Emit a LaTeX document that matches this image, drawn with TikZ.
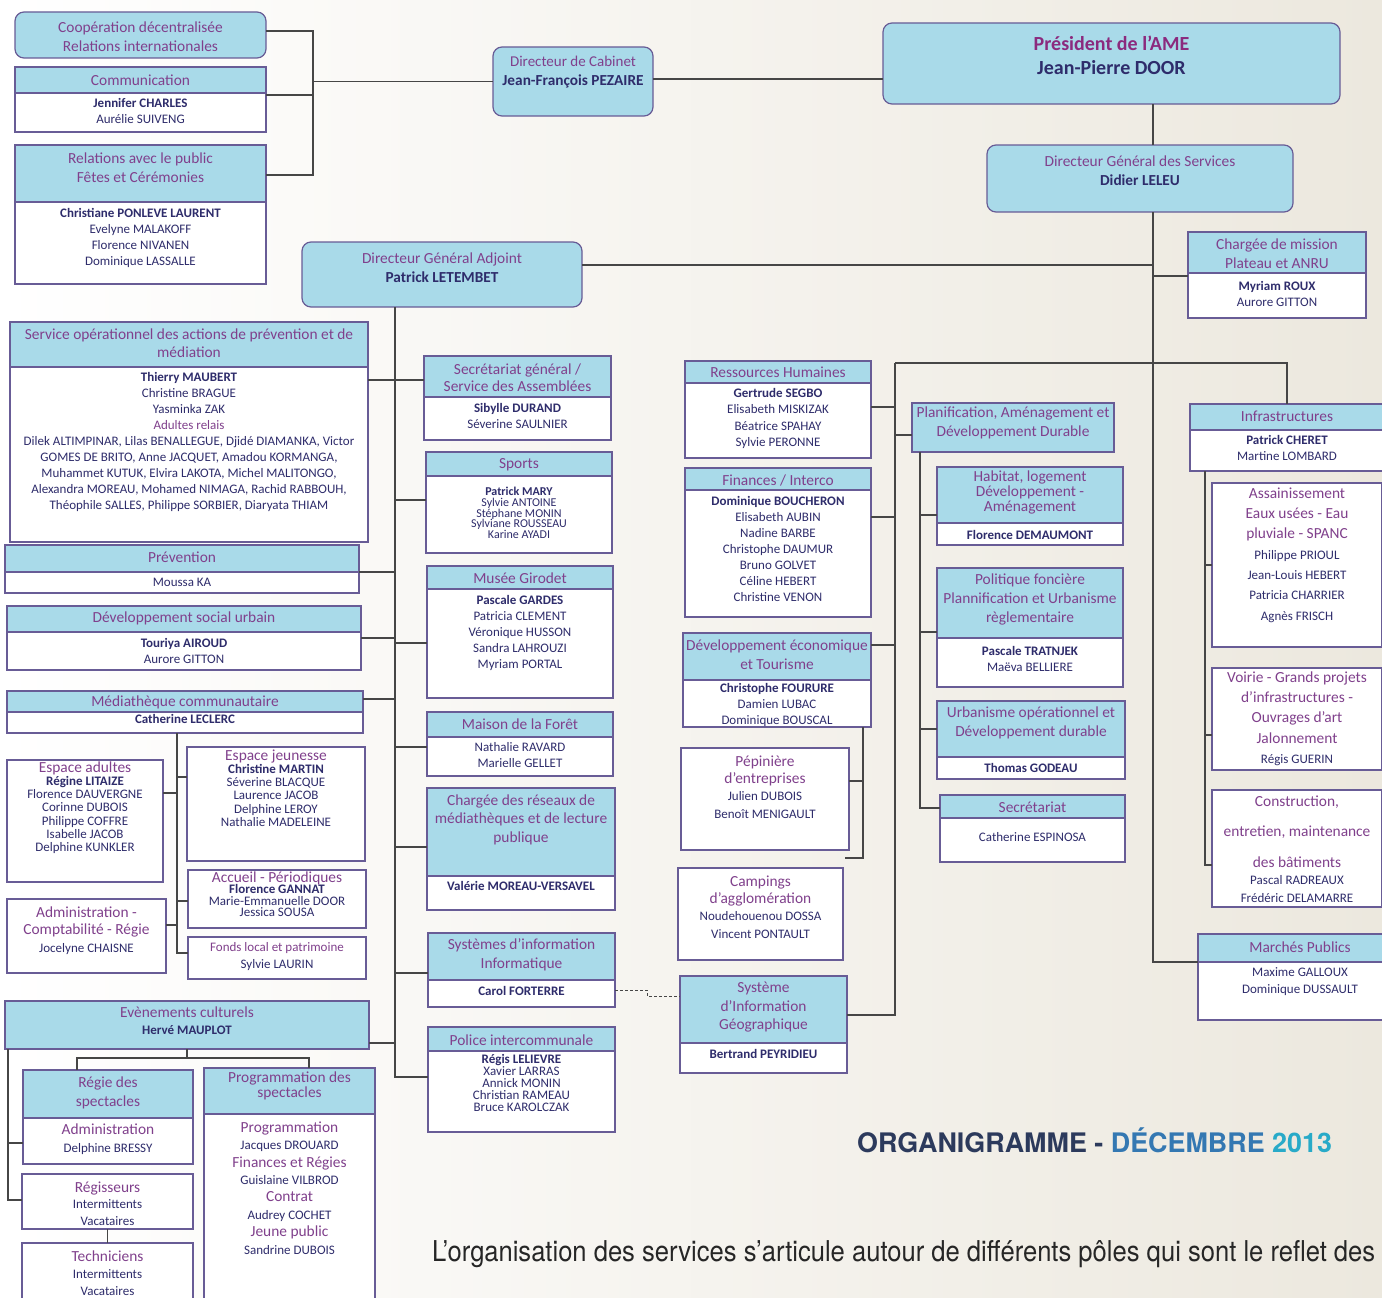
\documentclass[tikz,border=0pt]{standalone}
\usepackage{fontspec}
\setmainfont{Carlito}
\newfontfamily\heros{TeX Gyre Heros}
\usetikzlibrary{fit}
\definecolor{hdr}{RGB}{169,218,233}
\definecolor{bord}{RGB}{104,92,150}
\definecolor{ttl}{RGB}{128,64,140}
\definecolor{presc}{RGB}{139,42,126}
\definecolor{nav}{RGB}{46,44,107}
\definecolor{lnk}{RGB}{70,70,70}
\definecolor{bgr}{RGB}{236,232,222}
\definecolor{orgnav}{RGB}{44,58,92}
\definecolor{orgblue}{RGB}{52,120,178}
\definecolor{orgteal}{RGB}{40,170,200}
\newcommand\orgTwo[6]{%
  \fill[hdr] (#2,#3) rectangle (#4,#5);
  \fill[white] (#2,#5) rectangle (#4,#6);
  \draw[sep] (#2,#5) -- (#4,#5);
  \node[frame, fit={(#2,#3) (#4,#6)}] (#1) {};}
\newcommand\orgRound[5]{\node[frame, fill=hdr, rounded corners=9pt, fit={(#2,#3) (#4,#5)}] (#1) {};}
\newcommand\orgWhite[5]{\node[frame, fill=white, fit={(#2,#3) (#4,#5)}] (#1) {};}
\newcommand\orgBlue[5]{\node[frame, fill=hdr, fit={(#2,#3) (#4,#5)}] (#1) {};}
\newcommand\hsz[1]{\fontsize{15.4}{#1}\selectfont}
\newcommand\nsz[1]{\fontsize{13}{#1}\selectfont}
\newcommand\purp[1]{{\color{ttl}\fontsize{15.4}{14}\selectfont #1}}
\begin{document}
\lineskiplimit=-50pt\relax
\begin{tikzpicture}[x=1pt,y=-1pt,
  frame/.style={draw=bord, line width=1.2pt, inner sep=0pt, outer sep=0pt},
  sep/.style={draw=bord, line width=1.2pt},
  conn/.style={draw=lnk, line width=1.3pt},
  ht/.style={font=\hsz{19}, text=ttl, align=center, inner sep=0pt},
  nt/.style={font=\nsz{16}, text=nav, align=center, inner sep=0pt},
]
\useasboundingbox (0,0) rectangle (1382,1298);
\clip (0,0) rectangle (1382,1298);
\fill[left color=white, right color=bgr] (0,0) rectangle (1382,1298);

% ---------- top left
\orgRound{coop}{15}{12}{266}{58}
\node[ht] (coop-t) at (140.5,36.5) {Coopération décentralisée\\Relations internationales};
\orgTwo{comm}{15}{67}{266}{93}{132}
\node[ht] (comm-t) at (140.5,80) {Communication};
\node[nt] (comm-n) at (140.5,111) {\textbf{Jennifer CHARLES}\\Aurélie SUIVENG};
\orgTwo{rel}{15}{145}{266}{202}{284}
\node[ht] (rel-t) at (140.5,167.5) {Relations avec le public\\Fêtes et Cérémonies};
\node[nt] (rel-n) at (140.5,237.5) {\textbf{Christiane PONLEVE LAURENT}\\Evelyne MALAKOFF\\Florence NIVANEN\\Dominique LASSALLE};

% ---------- direction
\orgRound{cab}{493}{47}{653}{116}
\node[ht, font=\fontsize{15}{19}\selectfont] (cab-t) at (573,72.5) {Directeur de Cabinet\\\textcolor{nav}{\bfseries\fontsize{15.3}{19}\selectfont Jean-François PEZAIRE}};
\orgRound{pres}{883}{23}{1340}{104}
\node[ht, font=\bfseries\fontsize{20}{24}\selectfont, text=presc] (pres-t) at (1111.5,55) {Président de l'AME\\\textcolor{nav}{Jean-Pierre DOOR}};
\orgRound{dgs}{987}{145}{1293}{212}
\node[ht] (dgs-t) at (1140,170.5) {Directeur Général des Services\\\textcolor{nav}{\bfseries\fontsize{15.3}{19}\selectfont Didier LELEU}};
\orgRound{dga}{302}{242}{582}{307}
\node[ht] (dga-t) at (442,267.5) {Directeur Général Adjoint\\\textcolor{nav}{\bfseries\fontsize{15.3}{19}\selectfont Patrick LETEMBET}};
\orgTwo{cm}{1188}{232}{1366}{273}{318}
\node[ht] (cm-t) at (1277,253.5) {Chargée de mission\\Plateau et ANRU};
\node[nt] (cm-n) at (1277,294) {\textbf{Myriam ROUX}\\Aurore GITTON};

% ---------- left column
\orgTwo{sop}{10}{322}{368}{367}{542}
\node[ht, font=\hsz{18}] (sop-t) at (189,343) {Service opérationnel des actions de prévention et de\\médiation};
\node[nt] (sop-n) at (189,442) {\textbf{Thierry MAUBERT}\\Christine BRAGUE\\Yasminka ZAK\\\textcolor{ttl}{Adultes relais}\\Dilek ALTIMPINAR, Lilas BENALLEGUE, Djidé DIAMANKA, Victor\\GOMES DE BRITO, Anne JACQUET, Amadou KORMANGA,\\Muhammet KUTUK, Elvira LAKOTA, Michel MALITONGO,\\Alexandra MOREAU, Mohamed NIMAGA, Rachid RABBOUH,\\Théophile SALLES, Philippe SORBIER,  Diaryata THIAM};
\orgTwo{prev}{5}{545}{359}{572}{593}
\node[ht] (prev-t) at (182,557) {Prévention};
\node[nt] (prev-n) at (182,582) {Moussa KA};
\orgTwo{dsu}{7}{606}{361}{632}{670}
\node[ht] (dsu-t) at (184,618) {Développement social urbain};
\node[nt] (dsu-n) at (184,651) {\textbf{Touriya AIROUD}\\Aurore GITTON};
\orgTwo{med}{7}{691}{363}{712}{733}
\node[ht] (med-t) at (185,702) {Médiathèque communautaire};
\node[nt] (med-n) at (185,719) {\textbf{Catherine LECLERC}};
\orgWhite{ead}{7}{760}{163}{882}
\node[nt, font=\nsz{13.2}] (ead-t) at (85,807.5) {\purp{Espace adultes}\\\textbf{Régine LITAIZE}\\Florence DAUVERGNE\\Corinne DUBOIS\\Philippe COFFRE\\Isabelle JACOB\\Delphine KUNKLER};
\orgWhite{ej}{187}{747}{365}{861}
\node[nt, font=\nsz{13.2}] (ej-t) at (276,788) {\purp{Espace jeunesse}\\\textbf{Christine MARTIN}\\Séverine BLACQUE\\Laurence JACOB\\Delphine LEROY\\Nathalie MADELEINE};
\orgWhite{acc}{188}{870}{366}{928}
\node[nt, font=\nsz{11.5}] (acc-t) at (277,894) {\purp{Accueil - Périodiques}\\\textbf{Florence GANNAT}\\Marie-Emmanuelle DOOR\\Jessica SOUSA};
\orgWhite{adm}{7}{899}{166}{973}
\node[nt, font=\nsz{17.5}] (adm-t) at (86.5,930.5) {\purp{Administration -}\\\purp{Comptabilité - Régie}\\Jocelyne CHAISNE};
\orgWhite{fonds}{188}{937}{366}{979}
\node[nt, font=\nsz{17}] (fonds-t) at (277,956.5) {\textcolor{ttl}{Fonds local et patrimoine}\\Sylvie LAURIN};
\orgBlue{evt}{5}{1001}{369}{1049}
\node[nt, font=\nsz{17}] (evt-t) at (187,1020.5) {\purp{Evènements culturels}\\\textbf{Hervé MAUPLOT}};
\orgTwo{regie}{23}{1070}{193}{1118}{1164}
\node[ht] (regie-t) at (108,1092.5) {Régie des\\spectacles};
\node[nt, font=\nsz{18}] (regie-n) at (108,1139) {\purp{Administration}\\Delphine BRESSY};
\orgWhite{regis}{22}{1174}{193}{1229}
\node[nt, font=\nsz{16.5}] (regis-t) at (107.5,1203.5) {\purp{Régisseurs}\\Intermittents\\Vacataires};
\orgWhite{tech}{22}{1243}{193}{1320}
\node[nt, font=\nsz{17}] (tech-t) at (107.5,1273) {\purp{Techniciens}\\Intermittents\\Vacataires};
\orgTwo{prog}{204}{1068}{375}{1114}{1320}
\node[ht, font=\hsz{15}] (prog-t) at (289.5,1085.5) {Programmation des\\spectacles};
\node[nt, font=\nsz{17.4}] (prog-n) at (289.5,1188) {\purp{Programmation}\\Jacques DROUARD\\\purp{Finances et Régies}\\Guislaine VILBROD\\\purp{Contrat}\\Audrey COCHET\\\purp{Jeune public}\\Sandrine DUBOIS};

% ---------- middle column
\orgTwo{sg}{424}{356}{611}{397}{440}
\node[ht, font=\hsz{17}] (sg-t) at (517.5,377.5) {Secrétariat général /\\Service des Assemblées};
\node[nt] (sg-n) at (517.5,416) {\textbf{Sibylle DURAND}\\Séverine SAULNIER};
\orgTwo{sports}{426}{452}{612}{476}{553}
\node[ht] (sports-t) at (519,465) {Sports};
\node[nt, font=\fontsize{12}{10.8}\selectfont] (sports-n) at (519,513) {\textbf{Patrick MARY}\\Sylvie ANTOINE\\Stéphane MONIN\\Sylviane ROUSSEAU\\Karine AYADI};
\orgTwo{musee}{427}{566}{613}{589}{698}
\node[ht] (musee-t) at (520,578) {Musée Girodet};
\node[nt] (musee-n) at (520,633) {\textbf{Pascale GARDES}\\Patricia CLEMENT\\Véronique HUSSON\\Sandra LAHROUZI\\Myriam PORTAL};
\orgTwo{maison}{427}{712}{613}{737}{776}
\node[ht] (maison-t) at (520,724) {Maison de la Forêt};
\node[nt] (maison-n) at (520,755) {Nathalie RAVARD\\Marielle GELLET};
\orgTwo{res}{427}{788}{615}{876}{910}
\node[ht, font=\hsz{18.5}] (res-t) at (521,819.5) {Chargée des réseaux de\\médiathèques et de lecture\\publique};
\node[nt] (res-n) at (521,886) {\textbf{Valérie MOREAU-VERSAVEL}};
\orgTwo{si}{428}{933}{615}{980}{1007}
\node[ht] (si-t) at (521.5,954.5) {Systèmes d'information\\Informatique};
\node[nt] (si-n) at (521.5,991) {\textbf{Carol FORTERRE}};
\orgTwo{polic}{428}{1027}{615}{1051}{1132}
\node[ht] (polic-t) at (521.5,1040) {Police intercommunale};
\node[nt, font=\nsz{12.2}] (polic-n) at (521.5,1083) {\textbf{Régis LELIEVRE}\\Xavier LARRAS\\Annick MONIN\\Christian RAMEAU\\Bruce KAROLCZAK};

% ---------- middle right column
\orgTwo{rh}{685}{361}{871}{383}{458}
\node[ht] (rh-t) at (778,372) {Ressources Humaines};
\node[nt, font=\nsz{16.3}] (rh-n) at (778,418.5) {\textbf{Gertrude SEGBO}\\Elisabeth MISKIZAK\\Béatrice SPAHAY\\Sylvie PERONNE};
\orgTwo{fin}{685}{468}{871}{490}{617}
\node[ht] (fin-t) at (778,480) {Finances / Interco};
\node[nt] (fin-n) at (778,549) {\textbf{Dominique BOUCHERON}\\Elisabeth AUBIN\\Nadine BARBE\\Christophe DAUMUR\\Bruno GOLVET\\Céline HEBERT\\Christine VENON};
\orgTwo{deco}{683}{633}{871}{680}{727}
\node[ht] (deco-t) at (777,654.5) {Développement économique\\et Tourisme};
\node[nt] (deco-n) at (777,704.5) {\textbf{Christophe FOURURE}\\Damien LUBAC\\Dominique BOUSCAL};
\orgWhite{pep}{681}{748}{849}{850}
\node[nt, font=\nsz{17.3}] (pep-t) at (765,787) {\purp{Pépinière}\\\purp{d'entreprises}\\Julien DUBOIS\\Benoît MENIGAULT};
\orgWhite{camp}{678}{868}{843}{960}
\node[nt, font=\nsz{17.3}] (camp-t) at (760.5,907) {\purp{Campings}\\\purp{d'agglomération}\\Noudehouenou DOSSA\\Vincent PONTAULT};
\orgTwo{sig}{680}{976}{847}{1043}{1073}
\node[ht, font=\hsz{18.5}] (sig-t) at (763.5,1007.5) {Système\\d'Information\\Géographique};
\node[nt] (sig-n) at (763.5,1054) {\textbf{Bertrand PEYRIDIEU}};

% ---------- right: planification
\orgBlue{planif}{912}{403}{1114}{452}
\node[ht] (planif-t) at (1013,422.5) {Planification, Aménagement et\\Développement Durable};
\orgTwo{hab}{937}{467}{1123}{523}{545}
\node[ht, font=\hsz{15}] (hab-t) at (1030,492) {Habitat, logement\\Développement -\\Aménagement};
\node[nt] (hab-n) at (1030,535) {\textbf{Florence DEMAUMONT}};
\orgTwo{polf}{937}{568}{1123}{638}{687}
\node[ht] (polf-t) at (1030,599) {Politique foncière\\Plannification et Urbanisme\\règlementaire};
\node[nt] (polf-n) at (1030,659) {\textbf{Pascale TRATNJEK}\\Maëva BELLIERE};
\orgTwo{urb}{937}{701}{1125}{757}{779}
\node[ht] (urb-t) at (1031,722.5) {Urbanisme opérationnel et\\Développement durable};
\node[nt] (urb-n) at (1031,768) {\textbf{Thomas GODEAU}};
\orgTwo{secr}{940}{795}{1125}{818}{862}
\node[ht] (secr-t) at (1032.5,807) {Secrétariat};
\node[nt] (secr-n) at (1032.5,837) {Catherine ESPINOSA};

% ---------- right: infrastructures
\orgTwo{infra}{1190}{404}{1384}{430}{471}
\node[ht] (infra-t) at (1287,416) {Infrastructures};
\node[nt] (infra-n) at (1287,448) {\textbf{Patrick CHERET}\\Martine LOMBARD};
\orgWhite{ass}{1212}{483}{1382}{647}
\node[nt, font=\nsz{20.3}] (ass-t) at (1297,555) {\purp{Assainissement}\\\purp{Eaux usées - Eau}\\\purp{pluviale - SPANC}\\Philippe PRIOUL\\Jean-Louis HEBERT\\Patricia CHARRIER\\Agnès FRISCH};
\orgWhite{voi}{1212}{668}{1382}{770}
\node[nt, font=\nsz{20.3}] (voi-t) at (1297,718.5) {\purp{Voirie - Grands projets}\\\purp{d'infrastructures -}\\\purp{Ouvrages d'art}\\\purp{Jalonnement}\\Régis GUERIN};
\orgWhite{con}{1212}{790}{1382}{907}
\node[ht, font=\hsz{30.5}] (con-t) at (1297,831.5) {Construction,\\entretien, maintenance\\des bâtiments};
\node[nt, font=\nsz{18}] (con-n) at (1297,889) {Pascal RADREAUX\\Frédéric DELAMARRE};
\orgTwo{mp}{1198}{934}{1402}{962}{1020}
\node[ht] (mp-t) at (1300,947) {Marchés Publics};
\node[nt, font=\nsz{17}] (mp-n) at (1300,981.5) {Maxime GALLOUX\\Dominique DUSSAULT};

% ---------- connectors
\coordinate (jb) at (313,81.5);
\draw[conn] ([yshift=-19pt]coop.north east) -| (jb);
\draw[conn] ([yshift=-28pt]comm.north east) -| (jb);
\draw[conn] ([yshift=-30pt]rel.north east) -| (jb);
\draw[conn] (jb) -- (cab.west);
\draw[conn] ([yshift=-32pt]cab.north east) -- ([yshift=-56pt]pres.north west);
\draw[conn] ([xshift=41.5pt]pres.south) -- ([xshift=13pt]dgs.north);
\draw[conn] ([xshift=13pt]dgs.south) |- ([yshift=-28pt]mp.north west);
\coordinate (tDGA) at (1153,265);
\draw[conn] (tDGA) -- ([yshift=-23pt]dga.north east);
\coordinate (tCM) at (1153,276);
\draw[conn] (tCM) -- ([yshift=-44pt]cm.north west);
\coordinate (busR) at (895,363);
\draw[conn] (busR) -| (infra.north);
\draw[conn] (busR) |- ([yshift=-39pt]sig.north east);
\draw[conn] (busR) |- ([yshift=-46pt]rh.north east);
\draw[conn] (busR) |- ([yshift=-49pt]fin.north east);
\draw[conn] (busR) |- ([yshift=-12pt]deco.north east);
\draw[conn] (busR) |- ([yshift=-32pt]planif.north west);
\coordinate (depEnd) at (845,858);
\draw[conn] ([xshift=-8pt]deco.south east) |- (depEnd);
\draw[conn] ([xshift=-8pt]deco.south east) |- ([yshift=-33pt]pep.north east);
\coordinate (pb) at ([xshift=8pt]planif.south west);
\draw[conn] (pb) |- ([yshift=-13pt]secr.north west);
\draw[conn] (pb) |- ([yshift=-48pt]hab.north west);
\draw[conn] (pb) |- ([yshift=-64pt]polf.north west);
\draw[conn] (pb) |- ([yshift=-28pt]urb.north west);
\coordinate (ib) at ([xshift=15pt]infra.south west);
\draw[conn] (ib) |- ([yshift=-75pt]con.north west);
\draw[conn] (ib) |- ([yshift=-82pt]ass.north west);
\draw[conn] (ib) |- ([yshift=-67pt]voi.north west);
\coordinate (busL) at ([xshift=-47pt]dga.south);
\draw[conn] (busL) |- ([yshift=-50pt]polic.north west);
\draw[conn] (busL) |- ([yshift=-24pt]sg.north west);
\draw[conn] (busL) |- ([yshift=-48pt]sports.north west);
\draw[conn] (busL) |- ([yshift=-77pt]musee.north west);
\draw[conn] (busL) |- ([yshift=-35pt]maison.north west);
\draw[conn] (busL) |- ([yshift=-59pt]res.north west);
\draw[conn] (busL) |- ([yshift=-40pt]si.north west);
\draw[conn] (busL) |- ([yshift=-58pt]sop.north east);
\draw[conn] (busL) |- ([yshift=-27pt]prev.north east);
\draw[conn] (busL) |- ([yshift=-32pt]dsu.north east);
\draw[conn] (busL) |- ([yshift=-8pt]med.north east);
\draw[conn] (busL) |- ([yshift=-42pt]evt.north east);
\coordinate (mb) at ([xshift=-8pt]med.south);
\draw[conn] (mb) |- ([yshift=-16pt]fonds.north west);
\draw[conn] (mb) |- ([yshift=-30pt]ej.north west);
\draw[conn] (mb) |- ([yshift=-31pt]acc.north west);
\draw[conn] (mb) |- ([yshift=-33pt]ead.north east);
\draw[conn] (mb) |- ([yshift=-26pt]adm.north east);
\coordinate (ej1) at ([yshift=-9pt]evt.south);
\draw[conn] (evt.south) -- (ej1);
\draw[conn] ([xshift=-31pt]regie.north) |- (ej1) -| ([xshift=19.5pt]prog.north);
\draw[conn] ([xshift=3pt]evt.south west) |- ([yshift=-26pt]regis.north west);
\draw[conn] ([xshift=3pt]evt.south west) |- ([yshift=-73pt]regie.north west);
\draw[conn] (regis.south) -- (tech.north);
\coordinate (dj) at (647,990);
\draw[conn, line width=1pt, dash pattern=on 3pt off 2pt] ([yshift=-57pt]si.north east) -- (dj) |- ([yshift=-20pt]sig.north west);

% ---------- titles
\node[anchor=base west, inner sep=0pt, font=\heros\bfseries\fontsize{26.9}{30}\selectfont] (title) at (857,1152) {\textcolor{orgnav}{ORGANIGRAMME -} \textcolor{orgblue}{DÉCEMBRE} \textcolor{orgteal}{2013}};
\node[anchor=base west, inner sep=0pt, text=black!85] (intro) at (432,1261) {\resizebox{943pt}{21pt}{\heros L’organisation des services s’articule autour de différents pôles qui sont le reflet des}};
\end{tikzpicture}
\end{document}
